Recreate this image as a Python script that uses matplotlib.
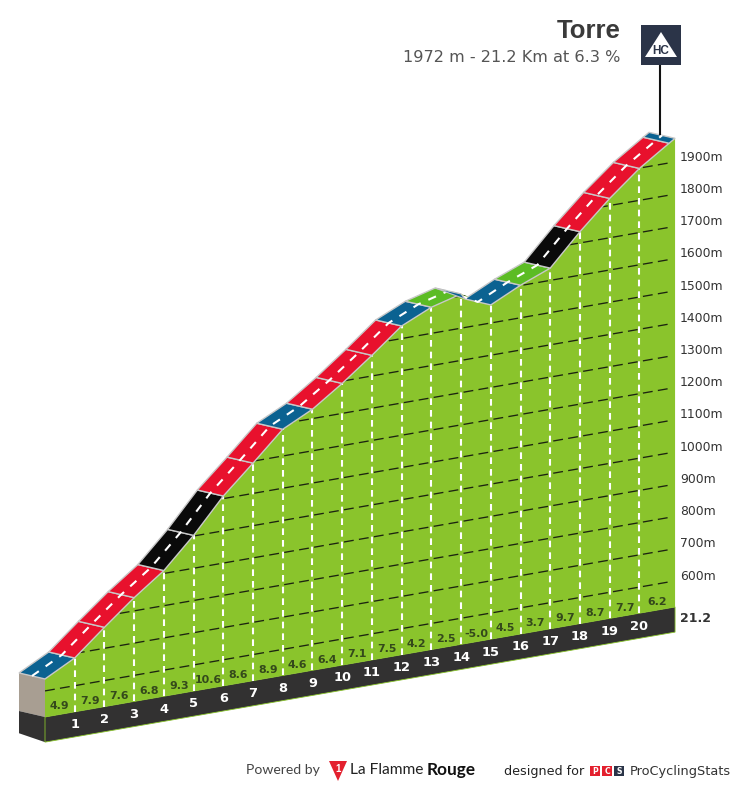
import matplotlib
matplotlib.use('Agg')
import matplotlib.pyplot as plt
from matplotlib.patches import Polygon, Rectangle
from matplotlib.transforms import Affine2D

# km marks and altitude (m) of the road at each of them
km_marks = [0, 1, 2, 3, 4, 5, 6, 7, 8, 9, 10, 11, 12, 13, 14, 15, 16, 17, 18, 19, 20, 21, 21.2]
altitudes = [637, 686, 765, 841, 909, 1002, 1108, 1194, 1283, 1329, 1393, 1464, 1539,
             1581, 1606, 1556, 1601, 1638, 1735, 1822, 1899, 1961, 1973]
gradients = ['4.9', '7.9', '7.6', '6.8', '9.3', '10.6', '8.6', '8.9', '4.6', '6.4', '7.1',
             '7.5', '4.2', '2.5', '-5.0', '4.5', '3.7', '9.7', '8.7', '7.7', '6.2']
segment_class = ['blue', 'red', 'red', 'red', 'black', 'black', 'red', 'red', 'blue', 'red', 'red',
                 'red', 'blue', 'green', 'blue', 'blue', 'green', 'black', 'red', 'red', 'red', 'blue']
alt_ticks = [600, 700, 800, 900, 1000, 1100, 1200, 1300, 1400, 1500, 1600, 1700, 1800, 1900]

road_colors = {'blue': '#0b6291', 'red': '#e8112d', 'black': '#0a0a0a', 'green': '#5cbc24'}
GREEN = '#8ac42c'
DARK = '#323131'

BASE = 519          # altitude of the foot of the green area
BAND = 78           # depth of the dark km band, in metres
BACK_KM = -0.875    # road width as seen in the oblique view
BACK_ALT = 32.7

fig = plt.figure(figsize=(7.35, 7.87), dpi=100)
ax = fig.add_axes([0, 0, 1, 1])
ax.set_xlim(0, 735)
ax.set_ylim(787, 0)
ax.axis('off')

# km / altitude -> picture position, the profile is drawn skewed
proj = Affine2D.from_values(29.72, -5.19, 0, -0.3223, 45, 717 + 0.3223 * BASE) + ax.transData


def poly(points, **kw):
    p = Polygon(points, closed=True, transform=proj, **kw)
    ax.add_patch(p)
    return p


# left wall and dark band
poly([(0, altitudes[0]), (BACK_KM, altitudes[0] + BACK_ALT), (BACK_KM, BASE + BACK_ALT), (0, BASE)],
     facecolor='#a89e92', edgecolor='none', zorder=1)
poly([(0, BASE), (BACK_KM, BASE + BACK_ALT), (BACK_KM, BASE - BAND + BACK_ALT + 9), (0, BASE - BAND)],
     facecolor=DARK, edgecolor='none', zorder=1)
poly([(0, BASE), (km_marks[-1], BASE), (km_marks[-1], BASE - BAND), (0, BASE - BAND)],
     facecolor=DARK, edgecolor=GREEN, linewidth=0.6, zorder=1)

# mountain
outline = list(zip(km_marks, altitudes)) + [(km_marks[-1], BASE), (0, BASE)]
mountain = poly(outline, facecolor=GREEN, edgecolor='none', zorder=2)

# altitude lines
for alt in alt_ticks:
    line, = ax.plot([0, 21.1], [alt, alt], transform=proj, color='#1c2410', lw=0.95,
                    linestyle=(0, (7.5, 4)), zorder=3)
    line.set_clip_path(mountain)
    ax.text(21.37, alt + 12, '%dm' % alt, transform=proj, ha='left', va='center',
            fontsize=8.9, color='#333333', zorder=6)

# km dashes
for k, a in zip(km_marks[1:21], altitudes[1:21]):
    ax.plot([k, k], [BASE, a], transform=proj, color='white', lw=1.5,
            linestyle=(0, (3.2, 2.4)), zorder=4)

# road
for i, cls in enumerate(segment_class):
    k0, k1 = km_marks[i], km_marks[i + 1]
    a0, a1 = altitudes[i], altitudes[i + 1]
    if a1 < a0:
        # descent, only the far side peeps out over the road before it
        poly([(k0 + BACK_KM, a0 + BACK_ALT), (k0, a0), (k1 + BACK_KM, a1 + BACK_ALT)],
             facecolor=road_colors[cls], edgecolor='#c4c4c4', linewidth=0.8, zorder=5.5)
        continue
    poly([(k0, a0), (k1, a1), (k1 + BACK_KM, a1 + BACK_ALT), (k0 + BACK_KM, a0 + BACK_ALT)],
         facecolor=road_colors[cls], edgecolor='#c8c8c8', linewidth=1.0, zorder=5)

centre_x = [k + BACK_KM / 2 for k in km_marks]
centre_y = [a + BACK_ALT / 2 for a in altitudes]
ax.plot(centre_x, centre_y, transform=proj, color='white', lw=1.5,
        linestyle=(0, (4, 4)), zorder=5.2)

# km and gradient labels
for i, g in enumerate(gradients):
    x = km_marks[i] + (km_marks[i + 1] - km_marks[i]) / 2
    if i == 20:
        x = 20.6
    ax.text(x, BASE + 25, g, transform=proj, ha='center', va='center', fontsize=7.9,
            fontweight='bold', color='#34491b', zorder=6)
for k in km_marks[1:21]:
    ax.text(k, BASE - 40, str(k), transform=proj, ha='center', va='center', fontsize=9.4,
            fontweight='bold', color='white', zorder=6)
ax.text(21.37, BASE - 40, '21.2', transform=proj, ha='left', va='center', fontsize=9,
        fontweight='bold', color='#333333', zorder=6)

# header
ax.text(621, 31, 'Torre', ha='right', va='center', fontsize=18.5, fontweight='bold',
        family='Liberation Sans', color='#3a3a3a')
ax.text(620, 58, '1972 m - 21.2 Km at 6.3 %', ha='right', va='center', fontsize=11.6, color='#555555')

# HC badge
ax.plot([660.5, 660.5], [65, 134], color='#111111', lw=1.5, zorder=7)
ax.add_patch(Rectangle((641, 25), 40, 40, facecolor='#2b3448', edgecolor='none', zorder=7))
ax.add_patch(Polygon([(661, 32), (645, 57), (677, 57)], facecolor='white', edgecolor='none', zorder=8))
ax.text(661, 50.5, 'HC', ha='center', va='center', fontsize=8.5, fontweight='bold',
        family='Liberation Sans', color='#2b3448', zorder=9)

# footer
ax.text(246, 770, 'Powered by', ha='left', va='center', fontsize=10.1, family='Lato', color='#444444')
ax.add_patch(Polygon([(329, 761), (347, 761), (338, 781)], facecolor='#e3202e', edgecolor='none'))
ax.text(338, 768.5, '1', ha='center', va='center', fontsize=7, fontweight='bold',
        family='Liberation Sans', color='white')
ax.text(350, 770, 'La Flamme', ha='left', va='center', fontsize=11.2, family='Lato', color='#222222')
ax.text(427, 770, 'Rouge', ha='left', va='center', fontsize=12.4, fontweight='bold', family='Lato', color='#111111')
ax.text(504, 771, 'designed for', ha='left', va='center', fontsize=9.2, color='#222222')
for x0, letter, col in [(590, 'P', '#e3202e'), (602, 'C', '#e3202e'), (614, 'S', '#2b3448')]:
    ax.add_patch(Rectangle((x0, 766), 10.5, 10, facecolor=col, edgecolor='none'))
    ax.text(x0 + 5.2, 771, letter, ha='center', va='center', fontsize=5.6, fontweight='bold', color='white')
ax.text(630, 771, 'ProCyclingStats', ha='left', va='center', fontsize=9.3, color='#333333')

fig.savefig('out.png', dpi=100)
